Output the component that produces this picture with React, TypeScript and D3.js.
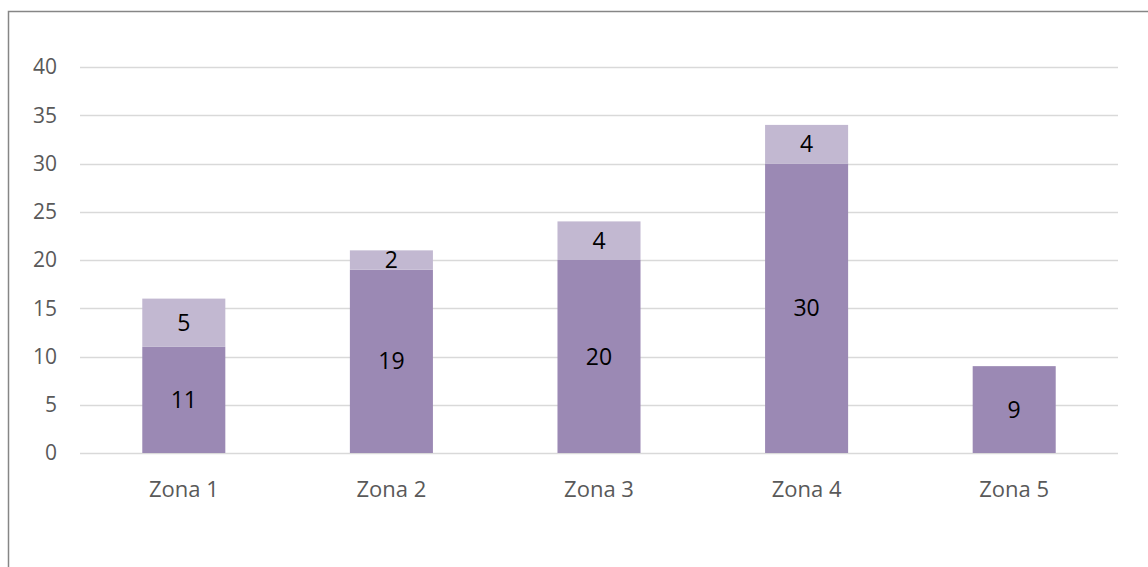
import React from "react";
import * as d3 from "d3";

const categories = ["Zona 1", "Zona 2", "Zona 3", "Zona 4", "Zona 5"];
const seriesA = [11, 19, 20, 30, 9];
const seriesB = [5, 2, 4, 4, 0];
const yTicks = [0, 5, 10, 15, 20, 25, 30, 35, 40];

const W = 1148;
const H = 567;
const plot = { left: 80, right: 1118, top: 67, bottom: 453 };
const colorA = "#9b89b4";
const colorB = "#c2b8d1";
const font = "'Open Sans', 'Liberation Sans', sans-serif";

export default function App() {
  const x = d3
    .scaleBand<string>()
    .domain(categories)
    .range([plot.left, plot.right])
    .paddingInner(0.6)
    .paddingOuter(0.3);
  const y = d3.scaleLinear().domain([0, 40]).range([plot.bottom, plot.top]);

  return (
    <svg
      width={W}
      height={H}
      style={{ position: "absolute", left: 0, top: 0, background: "#fff" }}
    >
      <rect x={8.5} y={11.5} width={W + 20} height={H + 20} fill="none" stroke="#868686" strokeWidth={1.5} />
      {yTicks.map((t) => (
        <g key={t}>
          <line
            x1={plot.left}
            x2={plot.right}
            y1={Math.round(y(t)) + 0.5}
            y2={Math.round(y(t)) + 0.5}
            stroke="#d9d9d9"
            strokeWidth={1.5}
          />
          <text
            x={57}
            y={y(t)}
            dy="0.35em"
            textAnchor="end"
            fontFamily={font}
            fontSize={21}
            fill="#595959"
          >
            {t}
          </text>
        </g>
      ))}
      {categories.map((c, i) => {
        const x0 = x(c)!;
        const bw = x.bandwidth();
        const a = seriesA[i];
        const b = seriesB[i];
        return (
          <g key={c}>
            <rect x={x0} y={y(a)} width={bw} height={y(0) - y(a)} fill={colorA} />
            {b > 0 && (
              <rect x={x0} y={y(a + b)} width={bw} height={y(a) - y(a + b)} fill={colorB} />
            )}
            <text
              x={x0 + bw / 2}
              y={y(a / 2)}
              dy="0.35em"
              textAnchor="middle"
              fontFamily={font}
              fontSize={23}
              fill="#000"
            >
              {a}
            </text>
            {b > 0 && (
              <text
                x={x0 + bw / 2}
                y={y(a + b / 2)}
                dy="0.35em"
                textAnchor="middle"
                fontFamily={font}
                fontSize={23}
                fill="#000"
              >
                {b}
              </text>
            )}
            <text
              x={x0 + bw / 2}
              y={489}
              dy="0.35em"
              textAnchor="middle"
              fontFamily={font}
              fontSize={22}
              fill="#595959"
            >
              {c}
            </text>
          </g>
        );
      })}
    </svg>
  );
}
